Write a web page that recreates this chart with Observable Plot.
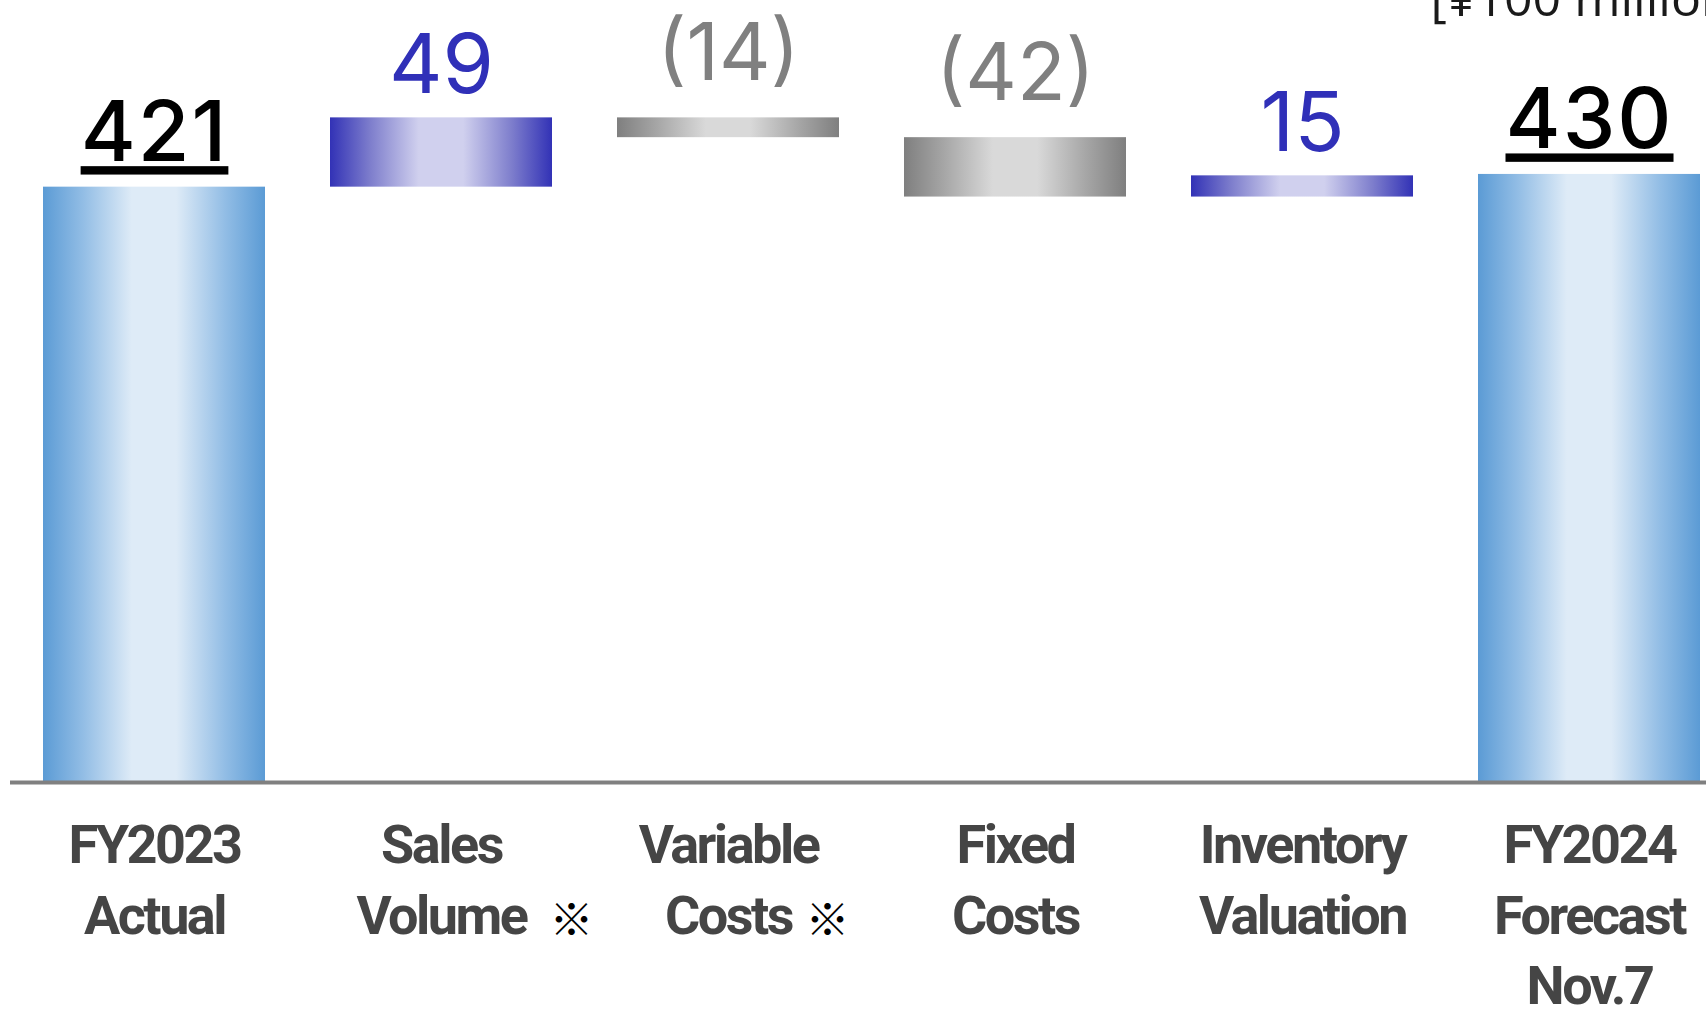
<!DOCTYPE html>
<html><head><meta charset="utf-8">
<script src="https://cdn.jsdelivr.net/npm/d3@7"></script>
<script src="https://cdn.jsdelivr.net/npm/@observablehq/plot@0.6"></script>
<style>
html,body{margin:0;padding:0;background:#fff;overflow:hidden;}
#chart svg{display:block;overflow:hidden;background:#fff}
g[font-family^="Roboto"] text{letter-spacing:-2.5px}
g[font-weight="500"] text{text-decoration:underline;text-decoration-thickness:4px;text-underline-offset:6px;letter-spacing:2px}
</style></head><body><div id="chart"></div>
<script>
const categories = ["FY2023 Actual","Sales Volume","Variable Costs","Fixed Costs","Inventory Valuation","FY2024 Forecast Nov.7"];
const tickLabels = ["FY2023\nActual","Sales\nVolume","Variable\nCosts","Fixed\nCosts","Inventory\nValuation","FY2024\nForecast\nNov.7"];
const values = [421, 49, -14, -42, 15, 430];
const kinds = ["total","change","change","change","change","total"];
const valueLabels = ["421","49","(14)","(42)","15","430"];
const noteMarks = ["", "※", "※", "", "", ""];
const unitLabel = "[¥100 million]";

// build waterfall rows
let run = 0;
const rows = categories.map((cat, i) => {
  let y1, y2;
  if (kinds[i] === "total") { y1 = 0; y2 = values[i]; run = values[i]; }
  else { y1 = run; y2 = run + values[i]; run = y2; }
  const type = kinds[i] === "total" ? "total" : (values[i] >= 0 ? "pos" : "neg");
  return {cat, tick: tickLabels[i], y1, y2, top: Math.max(y1, y2), type, label: valueLabels[i], note: noteMarks[i]};
});

const valueFont = "Inter, 'Noto Sans', sans-serif";
const plot = Plot.plot({
  width: 1706,
  height: 1013,
  marginTop: 0,
  marginBottom: 231,
  marginLeft: 42,
  marginRight: 5,
  style: {background: "#fff"},
  x: {domain: categories, paddingInner: 0.228, paddingOuter: 0, axis: null},
  y: {domain: [0, 553], axis: null},
  marks: [
    Plot.barY(rows.filter(d => d.type === "total"), {x: "cat", y1: "y1", y2: "y2", fill: "url(#gTotal)"}),
    Plot.barY(rows.filter(d => d.type === "pos"), {x: "cat", y1: "y1", y2: "y2", fill: "url(#gPos)"}),
    Plot.barY(rows.filter(d => d.type === "neg"), {x: "cat", y1: "y1", y2: "y2", fill: "url(#gNeg)"}),
    Plot.ruleY([0], {stroke: "#808080", strokeWidth: 4, insetLeft: -32, insetRight: -5}),
    Plot.text(rows.filter(d => d.type === "total"), {x: "cat", y: "top", text: "label", lineAnchor: "bottom", dy: -26,
      fill: "#000", fontSize: 84, fontFamily: valueFont, fontWeight: 500}),
    Plot.text(rows.filter(d => d.type === "pos"), {x: "cat", y: "top", text: "label", lineAnchor: "bottom", dy: -25,
      fill: "#3030b8", fontSize: 83, fontFamily: valueFont, fontWeight: 400}),
    Plot.text(rows.filter(d => d.type === "neg"), {x: "cat", y: "top", text: "label", lineAnchor: "bottom", dy: -38,
      fill: "#808080", fontSize: 80, fontFamily: valueFont, fontWeight: 400}),
    Plot.text(rows, {x: "cat", text: "tick", frameAnchor: "bottom", lineAnchor: "top", dy: 31, lineHeight: 1.3,
      fontSize: 54, fontFamily: "Roboto, 'Liberation Sans', sans-serif", fontWeight: "bold", fill: "#454545"}),
    Plot.text(rows.filter(d => d.cat === "Sales Volume"), {x: "cat", text: "note", frameAnchor: "bottom", lineAnchor: "middle",
      dy: 139, dx: 130, fontSize: 44, fontFamily: "'Noto Sans CJK JP', sans-serif", fontWeight: 300, fill: "#000"}),
    Plot.text(rows.filter(d => d.cat === "Variable Costs"), {x: "cat", text: "note", frameAnchor: "bottom", lineAnchor: "middle",
      dy: 139, dx: 99, fontSize: 44, fontFamily: "'Noto Sans CJK JP', sans-serif", fontWeight: 300, fill: "#000"}),
    Plot.text([unitLabel], {frameAnchor: "top-right", textAnchor: "start", lineAnchor: "bottom", dx: -271, dy: 15,
      fontSize: 50, fontFamily: "'Open Sans', sans-serif", fill: "#1a1a1a"})
  ]
});

// gradients
const defs = d3.select(plot).insert("defs", ":first-child");
function grad(id, dark, mid, light) {
  const g = defs.append("linearGradient").attr("id", id).attr("x1", "0").attr("x2", "1").attr("y1", "0").attr("y2", "0");
  [[0, dark], [0.18, mid], [0.4, light], [0.6, light], [0.82, mid], [1, dark]].forEach(([o, c]) =>
    g.append("stop").attr("offset", o).attr("stop-color", c));
}
grad("gTotal", "#5b9bd5", "#92bde5", "#deebf7");
grad("gPos", "#3232b6", "#7d7dcc", "#d0d0ee");
grad("gNeg", "#7f7f7f", "#a6a6a6", "#d9d9d9");

document.getElementById("chart").appendChild(plot);
</script></body></html>
